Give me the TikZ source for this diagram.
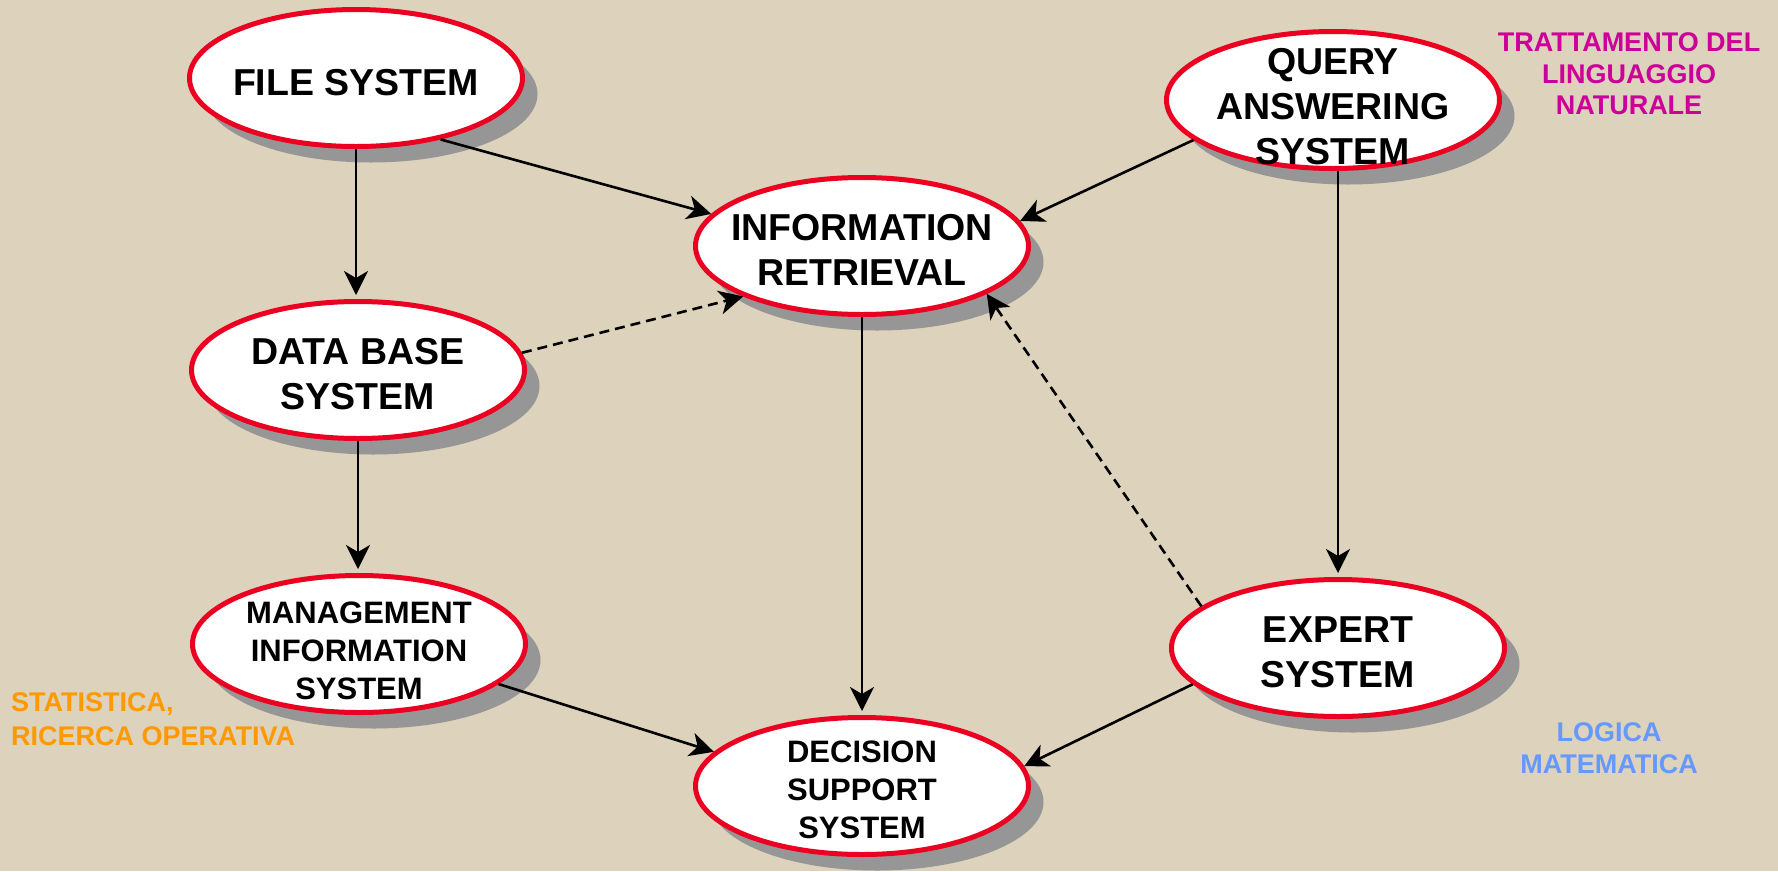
\documentclass[tikz,border=0pt]{standalone}
\usepackage{fontspec}
\setmainfont{Liberation Sans}
\usetikzlibrary{shapes.geometric,arrows.meta,shadows}
\definecolor{bg}{RGB}{221,210,187}
\definecolor{ellred}{RGB}{236,0,34}
\definecolor{shgray}{RGB}{150,150,150}
\definecolor{magentalab}{RGB}{204,0,153}
\definecolor{orangelab}{RGB}{255,153,0}
\definecolor{bluelab}{RGB}{102,153,255}
\begin{document}
\begin{tikzpicture}[x=1pt,y=-1pt,
 oval/.style={ellipse, draw=ellred, line width=5pt, fill=white, minimum width=333pt, minimum height=137pt, inner sep=0pt,
   drop shadow={shadow xshift=15pt, shadow yshift=-16pt, fill=shgray, opacity=1}},
 bigtxt/.style={font=\bfseries\fontsize{37.5}{45}\selectfont, align=center, inner sep=0pt},
 smalltxt/.style={font=\bfseries\fontsize{31}{38}\selectfont, align=center, inner sep=0pt},
 lab/.style={font=\bfseries\fontsize{27}{32}\selectfont, inner sep=0pt},
 conn/.style={line width=2.6pt, -{Stealth[length=24pt,width=24pt,inset=7pt]}},
 dconn/.style={conn, dash pattern=on 10pt off 6pt}]
\fill[bg] (0,0) rectangle (1778,871);
\useasboundingbox (0,0) rectangle (1778,871);

% ellipses
\node[oval] (fs)  at (356,78)  {};
\node[oval] (ir)  at (862,246) {};
\node[oval] (qas) at (1333,100) {};
\node[oval] (db)  at (358,370) {};
\node[oval] (mis) at (359,644) {};
\node[oval] (exp) at (1338,648) {};
\node[oval] (dss) at (862,786) {};

% texts
\node[bigtxt] (fst)  at (356,83)  {FILE SYSTEM};
\node[bigtxt] (irt)  at (862,250) {INFORMATION\\RETRIEVAL};
\node[bigtxt] (qast) at (1333,107) {QUERY\\ANSWERING\\SYSTEM};
\node[bigtxt] (dbt)  at (358,374) {DATA BASE\\SYSTEM};
\node[smalltxt] (mist) at (359,651) {MANAGEMENT\\INFORMATION\\SYSTEM};
\node[bigtxt] (expt) at (1338,652) {EXPERT\\SYSTEM};
\node[smalltxt] (dsst) at (862,790) {DECISION\\SUPPORT\\SYSTEM};

% side labels
\node[lab, text=magentalab, align=center, font=\bfseries\fontsize{27}{31.5}\selectfont] (l1) at (1629,74) {TRATTAMENTO DEL\\LINGUAGGIO\\NATURALE};
\node[lab, text=orangelab, align=left, anchor=west, font=\bfseries\fontsize{27}{34}\selectfont] (l2) at (11,719.5) {STATISTICA,\\RICERCA OPERATIVA};
\node[lab, text=bluelab, align=center] (l3) at (1609,748.5) {LOGICA\\MATEMATICA};

% connectors
\draw[conn, shorten >=4pt] (fs.south) -- (fs.south |- db.north);
\draw[conn] (fs.-36) -- (ir.168.5);
\draw[conn, shorten >=4pt] (db.south) -- (db.south |- mis.north);
\draw[dconn] (db.6) -- (ir.203.5);
\draw[conn] (qas.196.6) -- (ir.9);
\draw[conn, shorten >=4pt] (exp.north |- qas.south) -- (exp.north);
\draw[conn, shorten >=4pt] (ir.south) -- (dss.north);
\draw[dconn] (exp.163.6) -- (ir.-21.6);
\draw[conn] (mis.-16) -- (dss.167.6);
\draw[conn] (exp.194.6) -- (dss.7.8);
\end{tikzpicture}
\end{document}
